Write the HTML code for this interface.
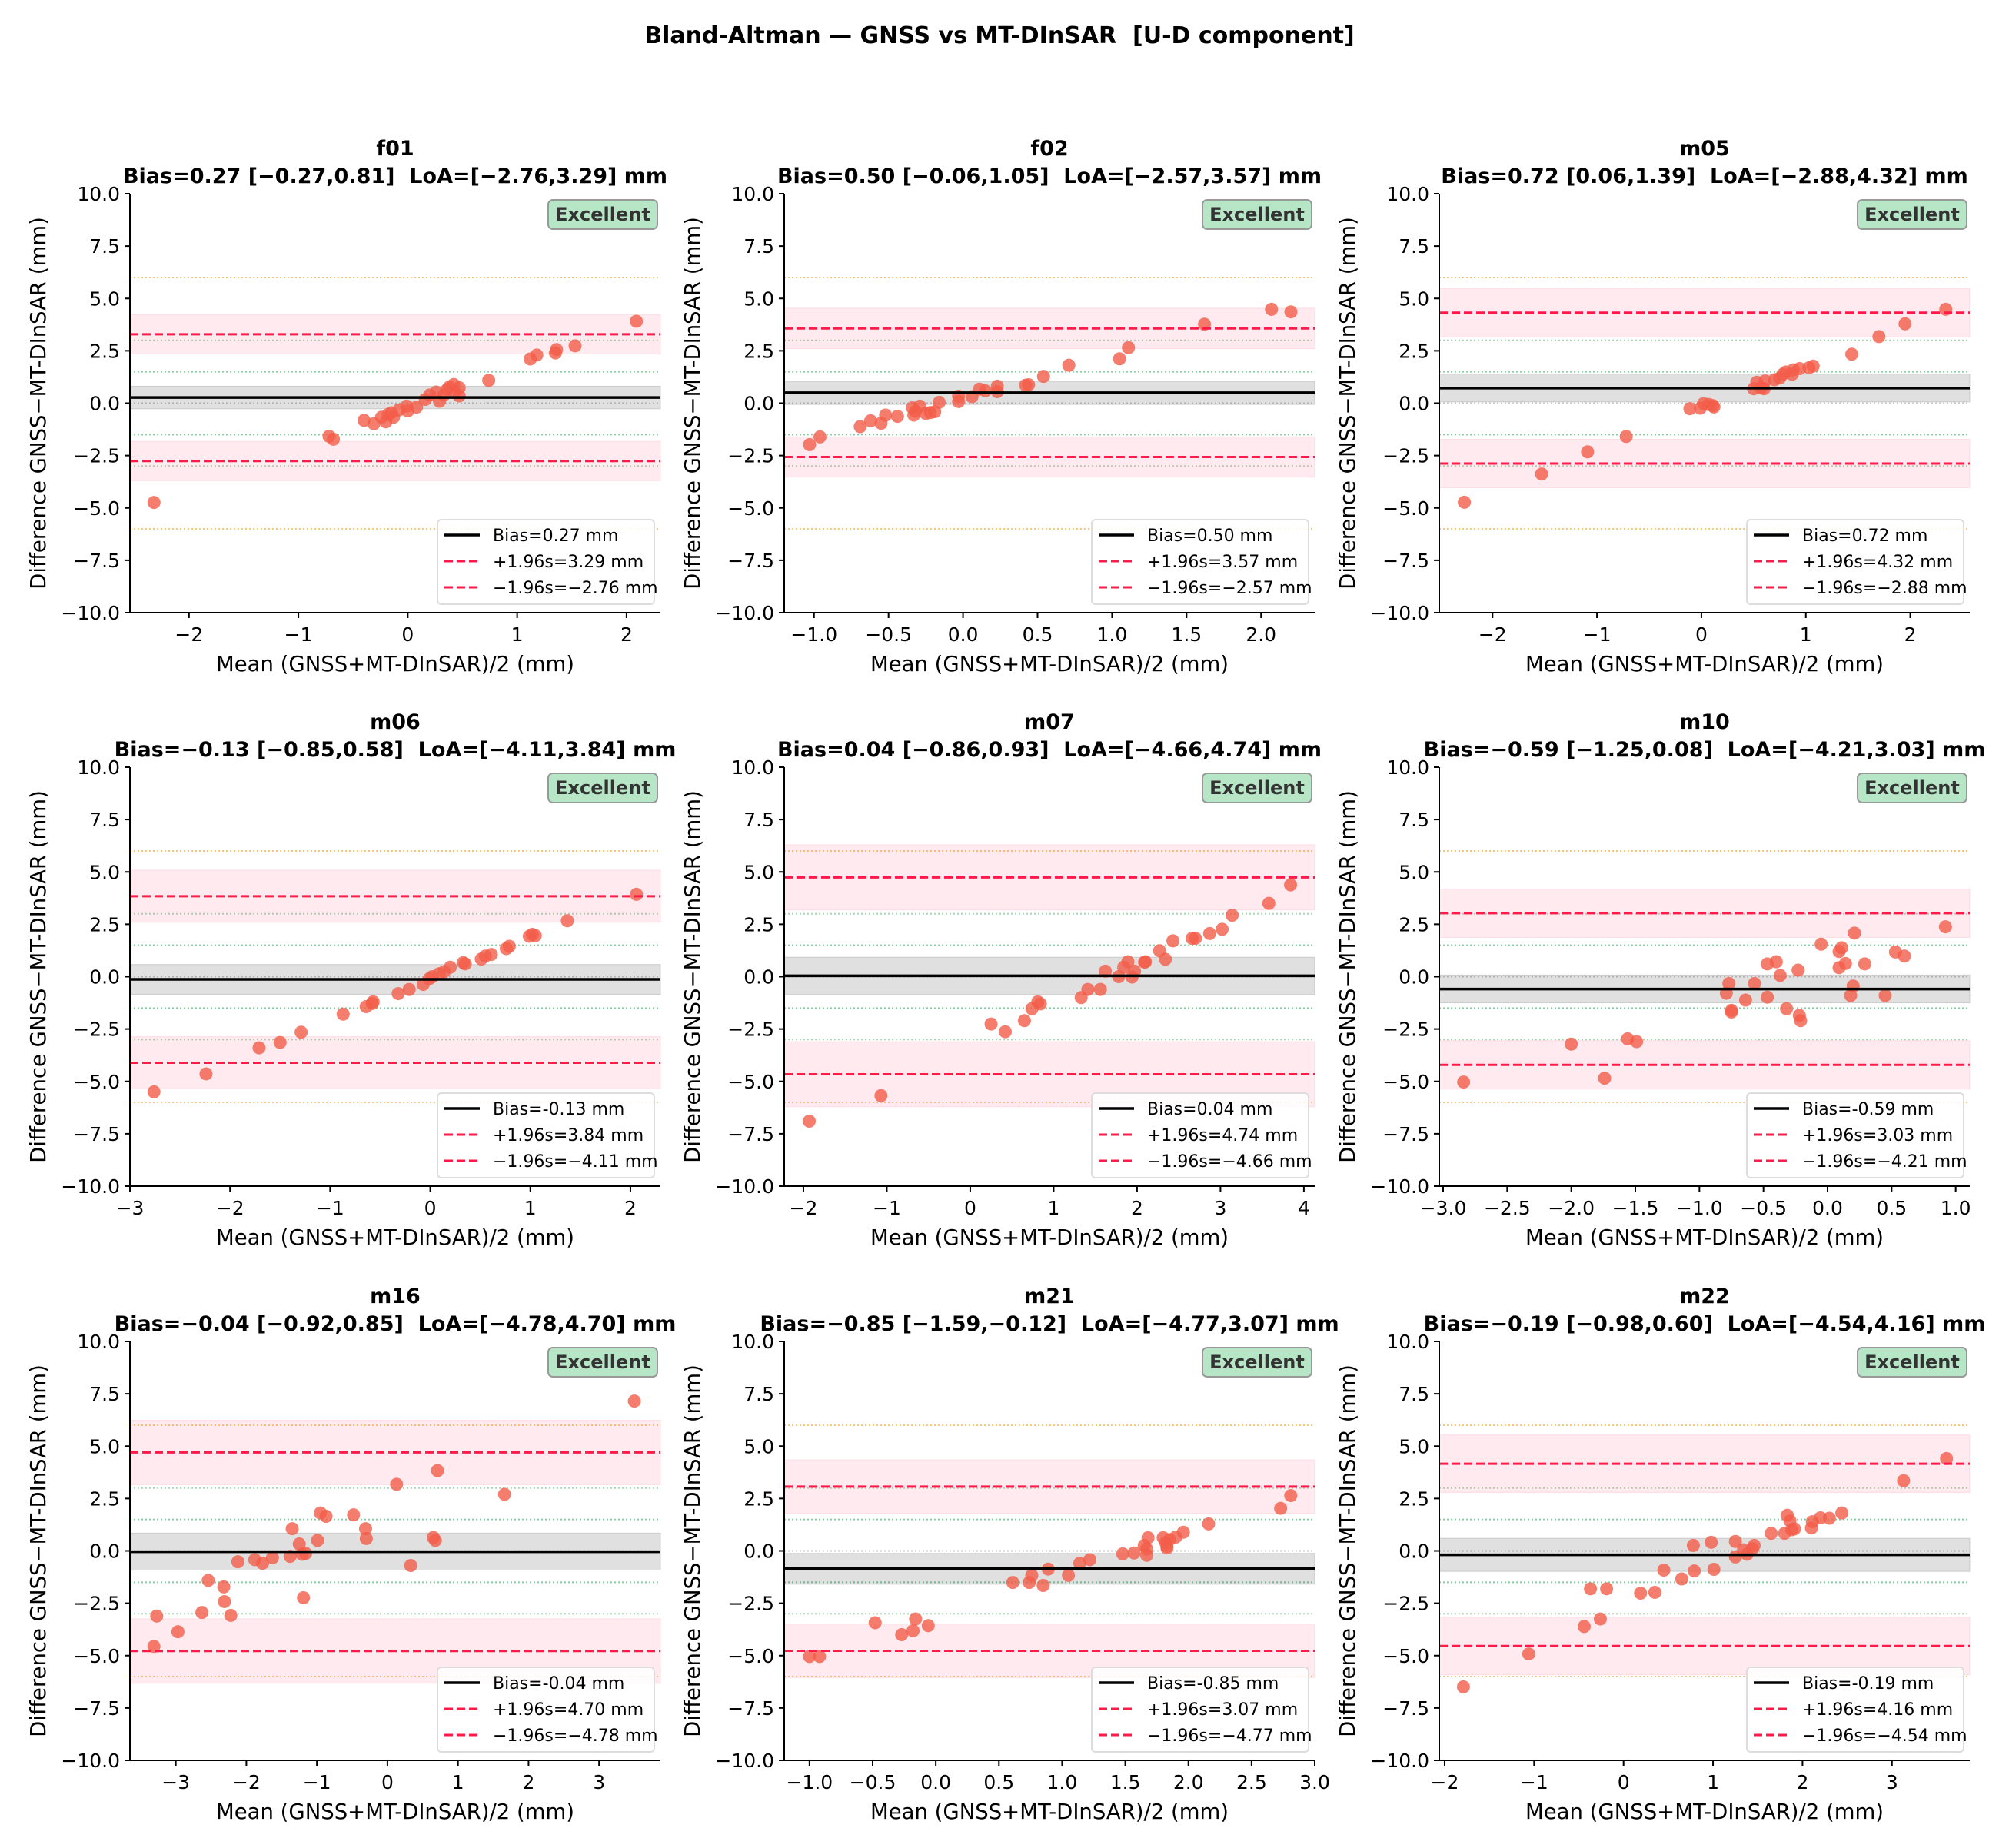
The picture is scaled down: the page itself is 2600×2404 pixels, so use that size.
<!DOCTYPE html>
<html><head><meta charset="utf-8">
<style>
html,body{margin:0;padding:0;background:#fff;}
svg{display:block;font-family:"DejaVu Sans","Liberation Sans",sans-serif;}
</style></head>
<body>
<svg id="fig" width="2600" height="2404" viewBox="0 0 2600 2404" xmlns="http://www.w3.org/2000/svg">
<rect width="2600" height="2404" fill="#fff"/>
<text x="1300" y="56" text-anchor="middle" font-size="30" font-weight="bold" xml:space="preserve">Bland-Altman — GNSS vs MT-DInSAR  [U-D component]</text>
</svg>
<script>
// ---- data ----
const panelNames = ["f01","f02","m05","m06","m07","m10","m16","m21","m22"];
const biasValues = [0.27,0.50,0.72,-0.13,0.04,-0.59,-0.04,-0.85,-0.19];
const biasCiLow  = [-0.27,-0.06,0.06,-0.85,-0.86,-1.25,-0.92,-1.59,-0.98];
const biasCiHigh = [0.81,1.05,1.39,0.58,0.93,0.08,0.85,-0.12,0.60];
const loaLow  = [-2.76,-2.57,-2.88,-4.11,-4.66,-4.21,-4.78,-4.77,-4.54];
const loaHigh = [3.29,3.57,4.32,3.84,4.74,3.03,4.70,3.07,4.16];
const xMinValues = [-2.54,-1.20,-2.51,-3.0,-2.23,-3.03,-3.65,-1.20,-2.06];
const xMaxValues = [2.31,2.36,2.57,2.30,4.13,1.11,3.87,3.0,3.87];
const xTickValues = [[-2,-1,0,1,2],[-1,-0.5,0,0.5,1,1.5,2],[-2,-1,0,1,2],[-3,-2,-1,0,1,2],[-2,-1,0,1,2,3,4],[-3,-2.5,-2,-1.5,-1,-0.5,0,0.5,1],[-3,-2,-1,0,1,2,3],[-1,-0.5,0,0.5,1,1.5,2,2.5,3],[-2,-1,0,1,2,3]];
const xTickDecimals = [0,1,0,0,0,1,0,1,0];
const yTickValues = [10,7.5,5,2.5,0,-2.5,-5,-7.5,-10];

const f01X=[-2.32,-0.72,-0.68,-0.40,-0.31,-0.24,-0.20,-0.18,-0.15,-0.13,-0.08,-0.01,0.0,0.08,0.16,0.20,0.26,0.29,0.33,0.36,0.38,0.42,0.47,0.47,0.43,0.74,1.12,1.18,1.35,1.36,1.53,2.09];
const f01Y=[-4.74,-1.58,-1.72,-0.82,-0.98,-0.67,-0.89,-0.54,-0.46,-0.67,-0.32,-0.14,-0.37,-0.19,0.18,0.39,0.53,0.09,0.39,0.65,0.77,0.89,0.74,0.35,0.53,1.09,2.11,2.30,2.40,2.56,2.74,3.91];
const f02X=[-1.03,-0.96,-0.69,-0.62,-0.55,-0.52,-0.44,-0.34,-0.33,-0.32,-0.29,-0.25,-0.22,-0.19,-0.16,-0.03,-0.03,0.06,0.11,0.15,0.23,0.23,0.42,0.44,0.54,0.71,1.05,1.11,1.62,2.07,2.20];
const f02Y=[-1.98,-1.61,-1.12,-0.84,-0.96,-0.57,-0.63,-0.22,-0.57,-0.39,-0.14,-0.49,-0.45,-0.41,0.04,0.08,0.33,0.31,0.67,0.59,0.81,0.55,0.86,0.88,1.28,1.81,2.12,2.65,3.77,4.48,4.36];
const m05X=[-2.27,-1.53,-1.09,-0.72,-0.11,-0.01,0.02,0.07,0.11,0.12,0.50,0.53,0.57,0.60,0.61,0.70,0.75,0.78,0.81,0.87,0.88,0.94,1.03,1.07,1.44,1.70,1.95,2.34];
const m05Y=[-4.73,-3.38,-2.32,-1.59,-0.26,-0.24,-0.02,-0.06,-0.12,-0.18,0.69,1.0,0.73,0.69,1.06,1.12,1.20,1.38,1.49,1.38,1.59,1.65,1.69,1.77,2.34,3.18,3.79,4.48];
const m06X=[-2.76,-2.24,-1.71,-1.50,-1.29,-0.87,-0.64,-0.58,-0.57,-0.32,-0.21,-0.07,-0.01,0.02,0.09,0.14,0.20,0.33,0.35,0.51,0.55,0.61,0.76,0.79,0.99,1.02,1.05,1.37,2.06];
const m06Y=[-5.50,-4.64,-3.40,-3.14,-2.65,-1.79,-1.43,-1.28,-1.20,-0.81,-0.61,-0.37,-0.10,0.0,0.14,0.24,0.45,0.67,0.61,0.84,0.98,1.06,1.34,1.45,1.93,2.02,1.96,2.67,3.93];
const m07X=[-1.93,-1.07,0.25,0.42,0.65,0.74,0.81,0.84,1.33,1.41,1.56,1.62,1.78,1.84,1.89,1.94,1.97,2.09,2.10,2.27,2.34,2.43,2.66,2.70,2.87,3.02,3.14,3.58,3.84];
const m07Y=[-6.90,-5.68,-2.26,-2.63,-2.10,-1.53,-1.20,-1.30,-1.0,-0.61,-0.61,0.26,0.0,0.45,0.71,-0.02,0.26,0.69,0.71,1.24,0.83,1.71,1.83,1.83,2.06,2.26,2.93,3.50,4.38];
const m10X=[-2.84,-2.0,-1.74,-1.56,-1.49,-0.79,-0.77,-0.75,-0.75,-0.64,-0.57,-0.47,-0.47,-0.40,-0.37,-0.32,-0.23,-0.22,-0.21,-0.05,0.09,0.09,0.11,0.14,0.18,0.20,0.21,0.29,0.45,0.53,0.60,0.92];
const m10Y=[-5.03,-3.22,-4.85,-2.97,-3.10,-0.79,-0.33,-1.61,-1.69,-1.12,-0.33,-0.98,0.61,0.71,0.06,-1.53,0.31,-1.85,-2.10,1.55,1.20,0.43,1.38,0.63,-0.90,-0.45,2.08,0.61,-0.90,1.18,0.98,2.38];
const m16X=[-3.31,-3.27,-2.97,-2.63,-2.54,-2.32,-2.31,-2.22,-2.12,-1.88,-1.77,-1.63,-1.38,-1.35,-1.25,-1.21,-1.19,-1.16,-0.99,-0.95,-0.87,-0.48,-0.31,-0.30,0.13,0.33,0.65,0.68,0.71,1.66,3.50];
const m16Y=[-4.56,-3.11,-3.86,-2.94,-1.41,-1.72,-2.42,-3.08,-0.52,-0.42,-0.59,-0.33,-0.26,1.06,0.33,-0.16,-2.24,-0.12,0.50,1.81,1.65,1.72,1.06,0.59,3.18,-0.70,0.64,0.50,3.83,2.70,7.15];
const m21X=[-1.0,-0.92,-0.48,-0.27,-0.18,-0.16,-0.06,0.61,0.74,0.76,0.85,0.89,1.05,1.14,1.22,1.48,1.57,1.65,1.67,1.68,1.67,1.80,1.82,1.83,1.83,1.85,1.90,1.96,2.16,2.73,2.81];
const m21Y=[-5.04,-5.04,-3.43,-4.0,-3.81,-3.25,-3.57,-1.51,-1.51,-1.17,-1.65,-0.87,-1.17,-0.59,-0.42,-0.14,-0.10,0.26,-0.21,0.63,0.09,0.63,0.40,0.23,0.14,0.54,0.66,0.89,1.29,2.03,2.64];
const m22X=[-1.79,-1.06,-0.44,-0.37,-0.26,-0.19,0.19,0.35,0.45,0.65,0.78,0.79,0.98,1.01,1.25,1.25,1.34,1.38,1.44,1.46,1.65,1.80,1.83,1.86,1.88,1.91,2.10,2.11,2.20,2.30,2.44,3.13,3.61];
const m22Y=[-6.49,-4.92,-3.61,-1.81,-3.25,-1.81,-2.02,-1.98,-0.92,-1.34,0.26,-0.96,0.41,-0.88,0.45,-0.29,0.05,-0.16,0.10,0.26,0.84,0.84,1.70,1.43,1.01,1.05,1.09,1.39,1.58,1.56,1.81,3.35,4.41];
const pointsX=[f01X,f02X,m05X,m06X,m07X,m10X,m16X,m21X,m22X];
const pointsY=[f01Y,f02Y,m05Y,m06Y,m07Y,m10Y,m16Y,m21Y,m22Y];

// ---- layout ----
const NS="http://www.w3.org/2000/svg";
const svg=document.getElementById('fig');
const colLeft=[169,1020,1872], rowTop=[252,998,1745], W=690, H=545;
function mk(tag,attrs,parent){const e=document.createElementNS(NS,tag);for(const k in attrs)e.setAttribute(k,attrs[k]);(parent||svg).appendChild(e);return e;}
function fmt(v,d){const s=Math.abs(v).toFixed(d);return (v<0?"\u2212":"")+s;}
function fmtH(v){return v.toFixed(2);}

panelNames.forEach((name,i)=>{
  const L=colLeft[i%3], T=rowTop[Math.floor(i/3)], R=L+W, B=T+H;
  const x0=xMinValues[i], x1=xMaxValues[i];
  const sx=v=>L+(v-x0)/(x1-x0)*W;
  const sy=v=>T+(10-v)/20*H;
  const g=mk('g',{});
  
  
  // reference dotted lines
  [[6,'#f7c77a'],[-6,'#f7c77a'],[3,'#a9d6b4'],[-3,'#a9d6b4'],[1.5,'#86cfa3'],[-1.5,'#86cfa3'],[0,'#c8c8c8']].forEach(([v,c])=>{
    const l=mk('line',{x1:L,x2:R,y1:sy(v),y2:sy(v),stroke:c,'stroke-width':2,'stroke-dasharray':'2 3'},g);
    
    
  });
  // LoA CI bands
  const half=1.74*(biasCiHigh[i]-biasCiLow[i])/2;
  [loaHigh[i],loaLow[i]].forEach(v=>{
    const r=mk('rect',{x:L,width:W,y:sy(v+half),height:sy(v-half)-sy(v+half),fill:'#ff6680','fill-opacity':0.13,stroke:'#ff99aa','stroke-opacity':0.25},g);
    
    
  });
  // bias CI band
  const bb=mk('rect',{x:L,width:W,y:sy(biasCiHigh[i]),height:sy(biasCiLow[i])-sy(biasCiHigh[i]),fill:'#000','fill-opacity':0.12,stroke:'#999','stroke-opacity':0.4},g);
  
  
  // points
  pointsX[i].forEach((xv,j)=>{
    const c=mk('circle',{cx:sx(xv),cy:sy(pointsY[i][j]),r:8.5,fill:'#f25c48','fill-opacity':0.8},g);
    
    
  });
  // bias and LoA lines
  const bl=mk('line',{x1:L,x2:R,y1:sy(biasValues[i]),y2:sy(biasValues[i]),stroke:'#000','stroke-width':3.5},g);
  
  
  [loaHigh[i],loaLow[i]].forEach(v=>{
    const l=mk('line',{x1:L,x2:R,y1:sy(v),y2:sy(v),stroke:'#ff1a4a','stroke-width':3,'stroke-dasharray':'11 5'},g);
    
    
  });
  // spines
  const sp=mk('path',{d:`M${L},${T} V${B} H${R}`,fill:'none',stroke:'#000','stroke-width':2},g);
  
  
  // y ticks
  yTickValues.forEach(v=>{
    mk('line',{x1:L-7,x2:L,y1:sy(v),y2:sy(v),stroke:'#000','stroke-width':2},g);
    const t=mk('text',{x:L-13,y:sy(v)+9,'text-anchor':'end','font-size':25},g);
    t.textContent=fmt(v,1);
    
    
  });
  // x ticks
  xTickValues[i].forEach(v=>{
    mk('line',{x1:sx(v),x2:sx(v),y1:B,y2:B+7,stroke:'#000','stroke-width':2},g);
    const t=mk('text',{x:sx(v),y:B+37,'text-anchor':'middle','font-size':25},g);
    t.textContent=fmt(v,xTickDecimals[i]);
    
    
  });
  // axis labels
  const xl=mk('text',{x:L+W/2,y:B+76,'text-anchor':'middle','font-size':27.5},g);
  xl.textContent='Mean (GNSS+MT-DInSAR)/2 (mm)';
  
  
  const yl=mk('text',{x:0,y:0,'text-anchor':'middle','font-size':27.5,transform:`translate(${L-110},${T+H/2}) rotate(-90)`},g);
  yl.textContent='Difference GNSS\u2212MT-DInSAR (mm)';
  
  
  // titles
  const t1=mk('text',{x:L+W/2,y:T-50,'text-anchor':'middle','font-size':27,'font-weight':'bold'},g);
  t1.textContent=name;
  
  
  const t2=mk('text',{x:L+W/2,y:T-14,'text-anchor':'middle','font-size':27,'font-weight':'bold','xml:space':'preserve'},g);
  t2.setAttribute('xml:space','preserve');
  t2.textContent=`Bias=${fmt(biasValues[i],2)} [${fmt(biasCiLow[i],2)},${fmt(biasCiHigh[i],2)}]\u00a0\u00a0LoA=[${fmt(loaLow[i],2)},${fmt(loaHigh[i],2)}] mm`;
  
  
  // badge
  const bg=mk('g',{},g);
  
  
  mk('rect',{x:R-146,y:T+8,width:142,height:38,rx:6,fill:'#b7e6c6',stroke:'#999','stroke-width':2},bg);
  const bt=mk('text',{x:R-75,y:T+35,'text-anchor':'middle','font-size':24,'font-weight':'bold',fill:'#333'},bg);
  bt.textContent='Excellent';
  // legend
  const lg=mk('g',{},g);
  
  
  const lx=R-290, ly=B-121;
  mk('rect',{x:lx,y:ly,width:282,height:110,rx:5,fill:'#fff','fill-opacity':0.85,stroke:'#ddd','stroke-width':2},lg);
  const entries=[[`Bias=${fmtH(biasValues[i])} mm`,'#000',null,3.5],[`+1.96s=${fmt(loaHigh[i],2)} mm`,'#ff1a4a','11 5',3],[`\u22121.96s=${fmt(loaLow[i],2)} mm`,'#ff1a4a','11 5',3]];
  entries.forEach((e,k)=>{
    const cy=ly+20+k*34;
    const a={x1:lx+9,x2:lx+55,y1:cy,y2:cy,stroke:e[1],'stroke-width':e[3]};
    if(e[2])a['stroke-dasharray']=e[2];
    mk('line',a,lg);
    const tx=mk('text',{x:lx+72,y:cy+8,'font-size':22},lg);
    tx.textContent=e[0];
    
    
  });
});
</script>
</body></html>
